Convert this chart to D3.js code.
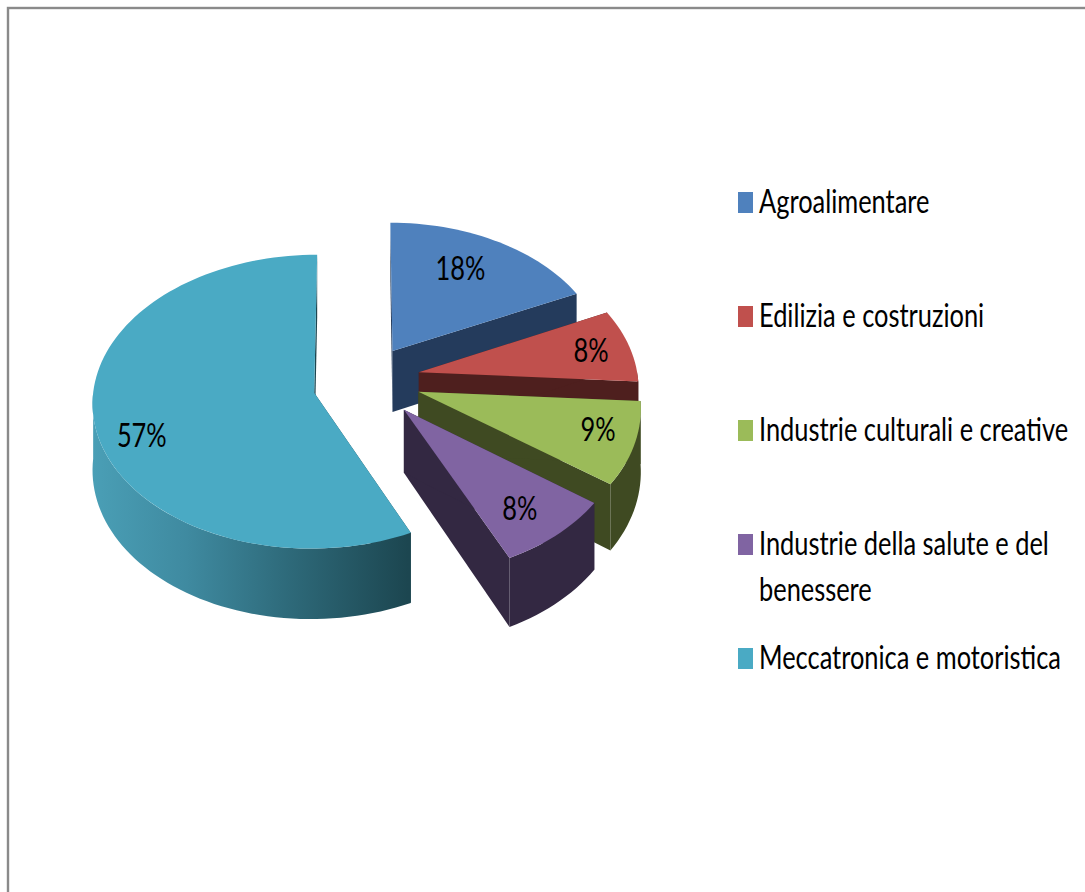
<!DOCTYPE html>
<html><head><meta charset="utf-8">
<script src="https://cdn.jsdelivr.net/npm/d3@7/dist/d3.min.js"></script>
<style>html,body{margin:0;background:#fff;overflow:hidden}svg{display:block}
text{font-family:Lato,"Open Sans",sans-serif;fill:#000}</style></head>
<body><svg id="c" width="1085" height="892"></svg>
<script>
const categories = ["Agroalimentare","Edilizia e costruzioni","Industrie culturali e creative","Industrie della salute e del benessere","Meccatronica e motoristica"];
const values = [18,8,9,8,57];
const colors = ["#4f81bd","#c0504d","#9bbb59","#8064a2","#4aaac4"];
const wallColors = ["#243b5c","#4e1f1e","#3f4a22","#332842","#1d4650"];
const explode = [0.233,0.25,0.256,0.27,0.245];
const radiusScale = [1,1.015,1.015,1,1.02];
const tilt = [0.67,0.67,0.67,0.67,0.66];
const perspective = [0.09,0.09,0.09,0.09,0.06];
const yShift = [0,0,0,0,6];
const depths = [62,62,62,62,66];
const labelAngle = [29,79.3,107.5,142,249.5];
const labelRadius = [0.71,0.83,0.84,0.79,0.83];
const legendLines = [["Agroalimentare"],["Edilizia e costruzioni"],["Industrie culturali e creative"],["Industrie della salute e del","benessere"],["Meccatronica e motoristica"]];

const svg = d3.select("#c");
const cx=366,cy=379,R=216;
const rad=Math.PI/180;

function project(sl,a,r,z){
  const i=sl.i;
  const X=sl.e*Math.sin(sl.mid)+r*Math.sin(a);
  const Y=-(sl.e*Math.cos(sl.mid)+r*Math.cos(a));
  const s=1/(1-perspective[i]*Y);
  return [cx+X*R*s, cy+yShift[i]+Y*R*tilt[i]*s+z*depths[i]*s];
}
const line=d3.line();
const arcs=d3.pie().sort(null).startAngle(0).endAngle(2*Math.PI)(values);
const slices=arcs.map((d,i)=>({i,a0:d.startAngle,a1:d.endAngle,mid:(d.startAngle+d.endAngle)/2,e:explode[i]}));

const defs=svg.append("defs");
const g=defs.append("linearGradient").attr("id","mw").attr("gradientUnits","userSpaceOnUse")
  .attr("x1",92).attr("x2",408).attr("y1",0).attr("y2",0);
[[0,"#4a9fb6"],[0.3,"#3f8aa0"],[0.62,"#2e6a7a"],[1,"#1c4650"]].forEach(s=>g.append("stop").attr("offset",s[0]).attr("stop-color",s[1]));

// frame
svg.append("rect").attr("x",8).attr("y",8).attr("width",1200).attr("height",1000)
  .attr("fill","#fff").attr("stroke","#8a8a8a").attr("stroke-width",2.4);

function arcPts(sl,a0,a1,z){
  const n=Math.max(2,Math.ceil((a1-a0)/rad/2));
  const rr=radiusScale[sl.i];
  return d3.range(n+1).map(j=>project(sl,a0+(a1-a0)*j/n,rr,z));
}
slices.forEach(sl=>{
  const c=colors[sl.i], w=sl.i===4?"url(#mw)":wallColors[sl.i];
  const rr=radiusScale[sl.i];
  const gg=svg.append("g");
  [sl.a1,sl.a0].forEach(a=>{
    gg.append("path").attr("fill",wallColors[sl.i]).attr("d",line([
      project(sl,a,0,0),project(sl,a,rr,0),project(sl,a,rr,1),project(sl,a,0,1)])+"Z");
  });
  const f0=Math.max(sl.a0,90*rad), f1=Math.min(sl.a1,270*rad);
  if(f1>f0){
    const top=arcPts(sl,f0,f1,0), bot=arcPts(sl,f0,f1,1).reverse();
    gg.append("path").attr("fill",w).attr("d",line(top.concat(bot))+"Z");
  }
  const pts=[project(sl,0,0,0)].concat(arcPts(sl,sl.a0,sl.a1,0));
  gg.append("path").attr("fill",c).attr("d",line(pts)+"Z");
});
slices.forEach(sl=>{
  const p=project(sl,labelAngle[sl.i]*rad,labelRadius[sl.i],0);
  svg.append("text").attr("transform",`translate(${p[0]},${p[1]+11.5}) scale(0.77,1)`)
    .attr("text-anchor","middle").attr("font-size",33).text(values[sl.i]+"%");
});
const ly=d3.scalePoint().domain(categories).range([213,669]);
categories.forEach((name,i)=>{
  svg.append("rect").attr("x",738).attr("y",ly(name)-21).attr("width",15).attr("height",21).attr("fill",colors[i]);
  legendLines[i].forEach((t,j)=>{
    svg.append("text").attr("transform",`translate(759,${ly(name)+j*46}) scale(0.77,1)`)
      .attr("font-size",33).text(t);
  });
});
</script></body></html>
